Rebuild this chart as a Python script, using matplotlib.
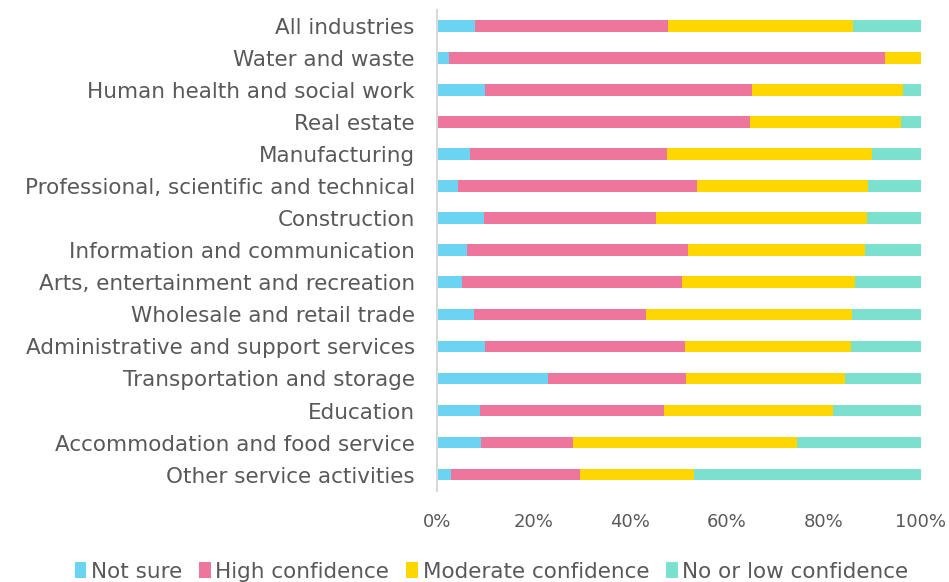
import numpy as np
import matplotlib
matplotlib.use("Agg")
import matplotlib.pyplot as plt

# industries, top to bottom as shown
industries = [
    "All industries",
    "Water and waste",
    "Human health and social work",
    "Real estate",
    "Manufacturing",
    "Professional, scientific and technical",
    "Construction",
    "Information and communication",
    "Arts, entertainment and recreation",
    "Wholesale and retail trade",
    "Administrative and support services",
    "Transportation and storage",
    "Education",
    "Accommodation and food service",
    "Other service activities",
]

# shares in percent
not_sure = [7.9, 2.4, 10.0, 0.0, 6.9, 4.3, 9.8, 6.2, 5.1, 7.6, 10.0, 22.9, 8.8, 9.2, 2.8]
high_conf = [39.8, 90.2, 55.1, 64.7, 40.6, 49.4, 35.4, 45.8, 45.5, 35.6, 41.2, 28.5, 38.1, 18.9, 26.7]
moderate_conf = [38.4, 7.4, 31.2, 31.2, 42.4, 35.4, 43.8, 36.5, 35.9, 42.7, 34.5, 33.0, 35.0, 46.4, 23.7]
low_conf = [13.9, 0.0, 3.7, 4.1, 10.1, 10.9, 11.0, 11.5, 13.5, 14.1, 14.3, 15.6, 18.1, 25.5, 46.8]

series = [
    ("Not sure", not_sure, "#6BD4F2"),
    ("High confidence", high_conf, "#EE759C"),
    ("Moderate confidence", moderate_conf, "#FFD700"),
    ("No or low confidence", low_conf, "#7CE0CF"),
]

text_col = "#595959"

fig = plt.figure(figsize=(9.49, 5.82), dpi=100)
ax = fig.add_axes([0.4605, 0.157, 0.5095, 0.826])

y = np.arange(len(industries))
left = np.zeros(len(industries))
for name, vals, col in series:
    vals = np.array(vals)
    ax.barh(y, vals, left=left, height=0.365, color=col, label=name)
    left += vals

ax.set_ylim(len(industries) - 0.5, -0.5)
ax.set_xlim(0, 100)
ax.set_yticks(y)
ax.set_yticklabels(industries, fontsize=15.5, color=text_col)
ax.set_xticks(np.arange(0, 101, 20))
ax.set_xticklabels([f"{v}%" for v in range(0, 101, 20)], fontsize=13, color=text_col)
ax.tick_params(axis="both", length=0)
ax.tick_params(axis="x", pad=16)
ax.tick_params(axis="y", pad=16)

for s in ["top", "right", "bottom"]:
    ax.spines[s].set_visible(False)
ax.spines["left"].set_color("#D9D9D9")
ax.spines["left"].set_linewidth(1.5)

leg = fig.legend(loc="center", bbox_to_anchor=(0.518, 0.018), ncol=4, frameon=False,
                 fontsize=15.5, handlelength=0.55, handleheight=0.8, handletextpad=0.2,
                 columnspacing=0.8)
for t in leg.get_texts():
    t.set_color(text_col)

fig.savefig("out.png", dpi=100)
